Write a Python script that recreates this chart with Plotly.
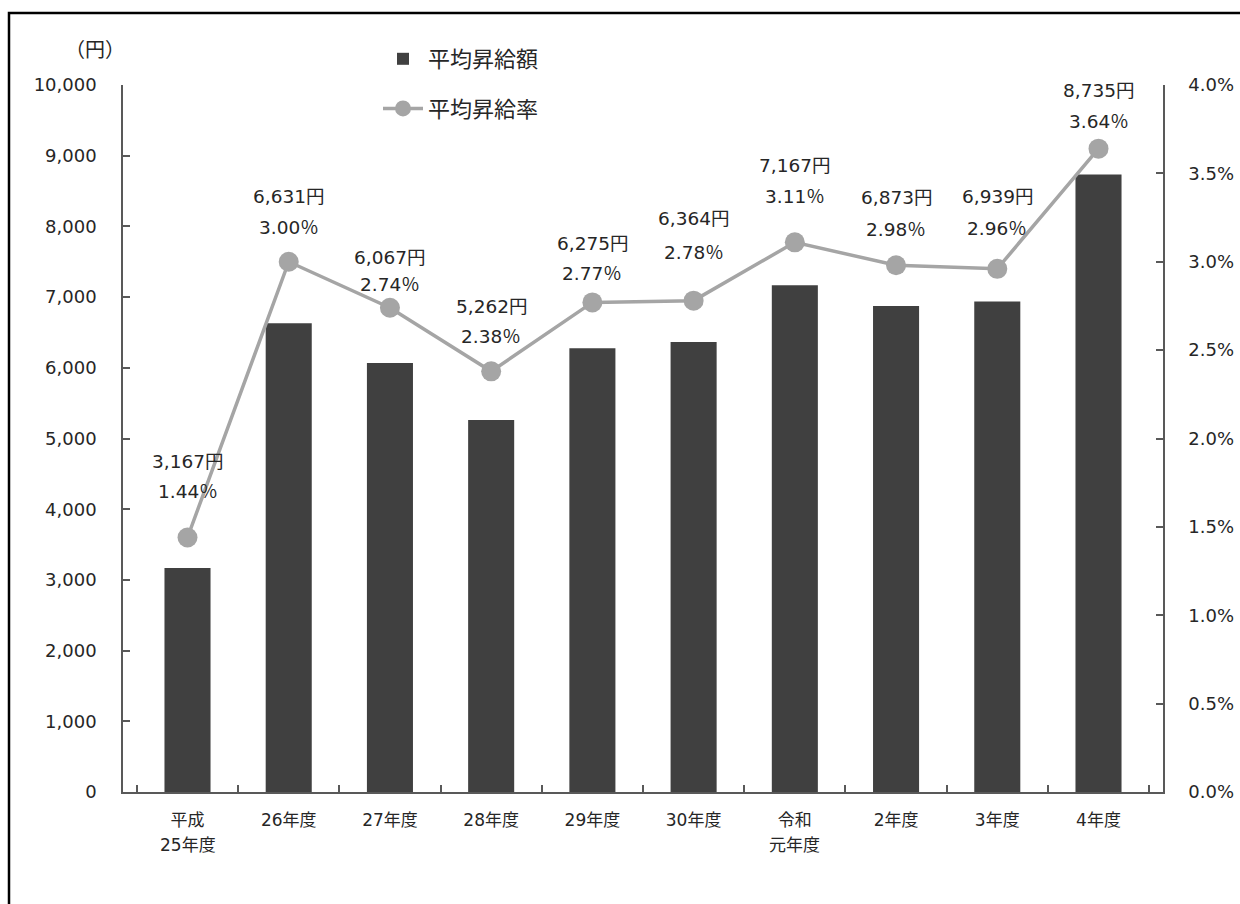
import plotly.graph_objects as go

# 年度ごとの平均昇給額（円）と平均昇給率（％）
categories = ["平成25年度", "26年度", "27年度", "28年度", "29年度",
              "30年度", "令和元年度", "2年度", "3年度", "4年度"]
tick_line1 = ["平成", "26年度", "27年度", "28年度", "29年度",
              "30年度", "令和", "2年度", "3年度", "4年度"]
tick_line2 = ["25年度", "", "", "", "", "", "元年度", "", "", ""]
raise_amount = [3167, 6631, 6067, 5262, 6275, 6364, 7167, 6873, 6939, 8735]
raise_rate = [1.44, 3.00, 2.74, 2.38, 2.77, 2.78, 3.11, 2.98, 2.96, 3.64]

# ラベルの縦位置（マーカー中心からの上方向オフセット, px）
amount_label_shift = [76, 65, 50, 65, 59, 82, 77, 68, 72, 58]
rate_label_shift = [46, 34, 23, 35, 29, 48, 46, 36, 40, 27]

FONT = "DejaVu Sans, Noto Sans CJK JP"
CJK = "Noto Sans CJK JP"
TEXT = "#262626"
AXIS = "#595959"
BAR = "#404040"
LINE = "#A5A5A5"

W, H = 1240, 904
ML, MR, MT, MB = 123, 77, 85, 112
PW, PH = W - ML - MR, H - MT - MB


def px_x(x):
    return (x - ML) / PW


def px_y(y):
    return (H - MB - y) / PH


fig = go.Figure()

fig.add_trace(go.Bar(
    x=categories, y=raise_amount, name="平均昇給額",
    marker=dict(color=BAR, line=dict(width=0)),
    width=0.455, legendgroup="amount", yaxis="y",
))

fig.add_trace(go.Scatter(
    x=categories, y=[r / 100 for r in raise_rate], name="平均昇給率",
    mode="lines+markers",
    line=dict(color=LINE, width=3.5),
    marker=dict(color=LINE, size=20),
    legendgroup="rate", yaxis="y2",
))

annotations = []
for cat, amt, rate, s1, s2 in zip(categories, raise_amount, raise_rate,
                                  amount_label_shift, rate_label_shift):
    annotations.append(dict(
        x=cat, y=rate / 100, xref="x", yref="y2", yshift=s1,
        text=f"{amt:,}円", showarrow=False, yanchor="middle",
        font=dict(family=FONT, size=18.5, color=TEXT),
    ))
    annotations.append(dict(
        x=cat, y=rate / 100, xref="x", yref="y2", yshift=s2,
        text=f"{rate:.2f}％", showarrow=False, yanchor="middle",
        font=dict(family=FONT, size=18.5, color=TEXT),
    ))

# 二段組みの年度ラベルの下段
for cat, line2 in zip(categories, tick_line2):
    if line2:
        annotations.append(dict(
            x=cat, y=0, xref="x", yref="paper", yshift=-53,
            text=line2, showarrow=False, yanchor="middle",
            font=dict(family=FONT, size=17, color=TEXT),
        ))

annotations.append(dict(
    x=px_x(95), y=px_y(48), xref="paper", yref="paper",
    text="（円）", showarrow=False, xanchor="center", yanchor="middle",
    font=dict(family=CJK, size=20, color=TEXT),
))

fig.update_layout(
    width=W, height=H,
    margin=dict(l=ML, r=MR, t=MT, b=MB, autoexpand=False),
    paper_bgcolor="white", plot_bgcolor="white",
    font=dict(family=FONT, size=18, color=TEXT),
    showlegend=True,
    legend=dict(
        x=px_x(378), y=px_y(38), xanchor="left", yanchor="top",
        orientation="v", tracegroupgap=18,
        font=dict(family=CJK, size=22, color=TEXT),
        bgcolor="rgba(0,0,0,0)", itemwidth=40,
    ),
    xaxis=dict(
        type="category", showline=True, linecolor=AXIS, linewidth=1.5,
        ticks="inside", ticklen=7, tickcolor=AXIS, tickwidth=1.5,
        tickson="boundaries", showgrid=False, zeroline=False,
        tickmode="array", tickvals=categories, ticktext=tick_line1,
        tickfont=dict(family=FONT, size=17, color=TEXT),
        ticklabelstandoff=12,
    ),
    yaxis=dict(
        range=[0, 10000], dtick=1000, tickformat=",",
        showline=True, linecolor=AXIS, linewidth=1.5,
        ticks="inside", ticklen=7, tickcolor=AXIS, tickwidth=1.5,
        showgrid=False, zeroline=False,
        tickfont=dict(family=FONT, size=18, color=TEXT),
        ticklabelstandoff=21,
    ),
    yaxis2=dict(
        range=[0, 0.04], dtick=0.005, tickformat=".1%",
        overlaying="y", side="right",
        showline=True, linecolor=AXIS, linewidth=1.5,
        ticks="inside", ticklen=7, tickcolor=AXIS, tickwidth=1.5,
        showgrid=False, zeroline=False,
        tickfont=dict(family=FONT, size=18, color=TEXT),
        ticklabelstandoff=20,
    ),
    annotations=annotations,
    shapes=[dict(
        type="rect", xref="paper", yref="paper",
        x0=px_x(9), x1=px_x(1300), y0=px_y(1000), y1=px_y(13),
        line=dict(color="black", width=2.5), fillcolor="rgba(0,0,0,0)",
        layer="below",
    )],
)

fig.write_html("out.html")
